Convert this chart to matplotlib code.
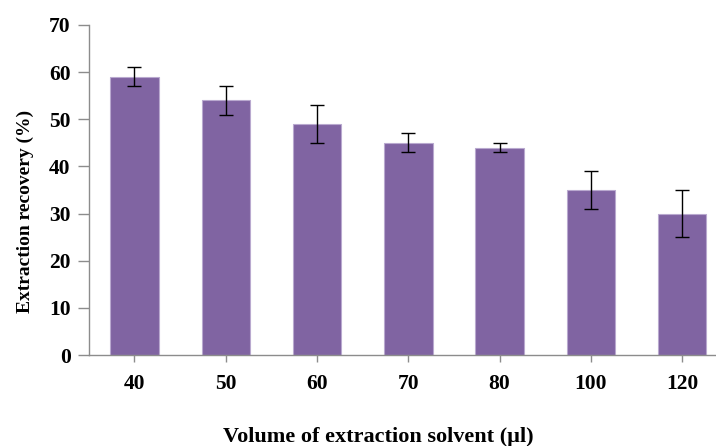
import numpy as np
import matplotlib
matplotlib.use('Agg')
import matplotlib.pyplot as plt

# 数据
volumes = ['40', '50', '60', '70', '80', '100', '120']
recovery = [59, 54, 49, 45, 44, 35, 30]
errors = [2, 3, 4, 2, 1, 4, 5]

plt.rcParams['font.family'] = ['Liberation Serif', 'DejaVu Serif']
plt.rcParams['font.weight'] = 'bold'

fig = plt.figure(figsize=(7.16, 4.46), dpi=100)
ax = fig.add_axes([0.124, 0.204, 0.876, 0.740])

x = np.arange(len(volumes))
ax.bar(x, recovery, width=0.53, color='#8064A2', edgecolor='#B9A9CF', linewidth=0.8,
       yerr=errors, error_kw=dict(ecolor='black', elinewidth=1.0, capsize=4.7, capthick=1.0))

ax.set_xlim(-0.5, 6.37)
ax.set_ylim(0, 70)
ax.set_yticks(range(0, 71, 10))
ax.set_xticks(x)
ax.set_xticklabels(volumes)

for s in ['top', 'right']:
    ax.spines[s].set_visible(False)
for s in ['left', 'bottom']:
    ax.spines[s].set_color('#8C8C8C')
    ax.spines[s].set_linewidth(1.0)

ax.tick_params(axis='y', length=8, width=1, color='#8C8C8C', labelsize=15.5, pad=5)
ax.tick_params(axis='x', length=5, width=1, color='#8C8C8C', labelsize=15.5, pad=9)

ax.set_ylabel('Extraction recovery (%)', fontsize=14, fontweight='bold')
ax.yaxis.set_label_coords(-0.087, 0.436)
ax.set_xlabel('Volume of extraction solvent (µl)', fontsize=16, fontweight='bold')
ax.xaxis.set_label_coords(0.461, -0.218)

fig.savefig('out.png', dpi=100)
